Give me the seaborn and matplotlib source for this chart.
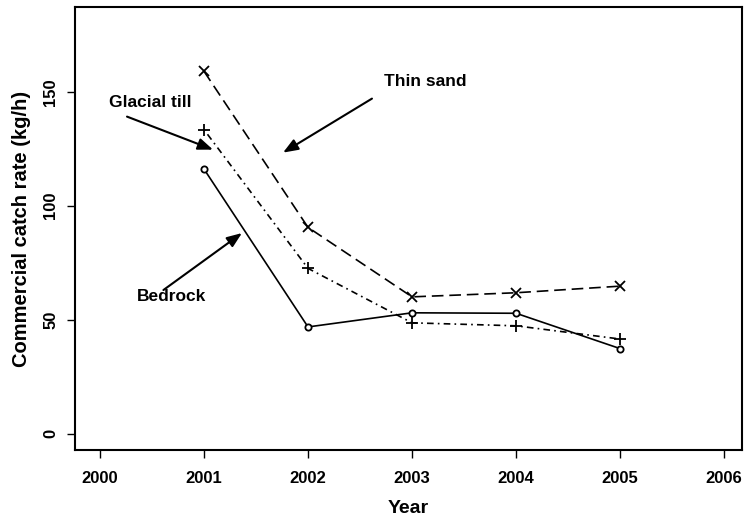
import matplotlib
matplotlib.use("Agg")
import matplotlib.pyplot as plt
import seaborn as sns
import pandas as pd

years = [2001, 2002, 2003, 2004, 2005]
thin_sand = [159, 90.5, 60.0, 61.8, 64.7]
glacial_till = [133.4, 72.5, 48.6, 47.3, 41.5]
bedrock = [116.1, 46.8, 53.0, 52.8, 37.3]
x_ticks = [2000, 2001, 2002, 2003, 2004, 2005, 2006]
y_ticks = [0, 50, 100, 150]

sns.set_style("ticks")
plt.rcParams['font.family'] = ['Liberation Sans', 'DejaVu Sans']
plt.rcParams['font.weight'] = 'bold'
plt.rcParams['text.color'] = 'black'
plt.rcParams['axes.labelcolor'] = 'black'
plt.rcParams['xtick.color'] = 'black'
plt.rcParams['ytick.color'] = 'black'

fig = plt.figure(figsize=(7.5, 5.23), dpi=100)
ax = fig.add_axes([0.1, 0.1396, 0.889, 0.847])

series = [
    ("Thin sand", thin_sand, "x", (0, (7, 3.5)), 7, 1.0),
    ("Glacial till", glacial_till, "+", (0, (1, 2.5, 4, 2.5)), 8, 1.0),
    ("Bedrock", bedrock, "o", "-", 4.5, 1.0),
]
for name, vals, mk, ls, ms, mew in series:
    df = pd.DataFrame({"Year": years, "Rate": vals})
    sns.lineplot(data=df, x="Year", y="Rate", ax=ax, color="black",
                 linewidth=1.2, linestyle=ls, marker=mk, markersize=ms,
                 markerfacecolor="white" if mk == "o" else "black",
                 markeredgecolor="black", markeredgewidth=1.3)

ax.set_xlim(1999.76, 2006.17)
ax.set_ylim(-7.2, 187.2)
ax.set_xticks(x_ticks)
ax.set_xticklabels([str(v) for v in x_ticks], fontsize=12, fontweight='bold', color='black')
ax.set_yticks(y_ticks)
ax.set_yticklabels([str(v) for v in y_ticks], fontsize=12, fontweight='bold',
                   rotation=90, va='center', color='black')
ax.tick_params(axis='both', direction='out', length=6, width=1.0, color='black',
               labelcolor='black')
ax.tick_params(axis='x', pad=9)
ax.tick_params(axis='y', pad=6)
for s in ax.spines.values():
    s.set_visible(True)
    s.set_linewidth(1.5)
    s.set_color('black')

ax.set_xlabel("Year", fontsize=14, fontweight='bold', labelpad=10, color='black')
ax.set_ylabel("Commercial catch rate (kg/h)", fontsize=14.5, fontweight='bold',
              labelpad=9, color='black')

arrowprops = dict(arrowstyle="-|>,head_length=0.9,head_width=0.35", color="black",
                  lw=1.5, shrinkA=0, shrinkB=0)
ax.annotate("", xy=(2001.76, 123.3), xytext=(2002.615, 147), arrowprops=arrowprops)
ax.annotate("", xy=(2001.087, 124.6), xytext=(2000.26, 139.1), arrowprops=arrowprops)
ax.annotate("", xy=(2001.365, 88), xytext=(2000.61, 63), arrowprops=arrowprops)
ax.text(2003.125, 154.6, "Thin sand", fontsize=12.5, fontweight='bold', ha='center',
        va='center', color='black')
ax.text(2000.48, 145.3, "Glacial till", fontsize=12.5, fontweight='bold', ha='center',
        va='center', color='black')
ax.text(2000.69, 60.3, "Bedrock", fontsize=12.5, fontweight='bold', ha='center',
        va='center', color='black')

fig.savefig("out.png", dpi=100)
